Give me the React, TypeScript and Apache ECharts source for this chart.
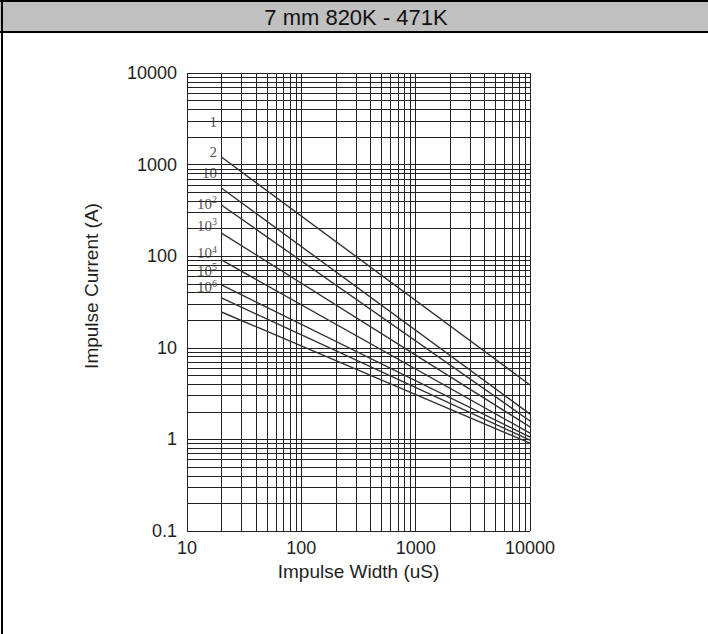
import React, { useEffect, useRef } from "react";
import * as echarts from "echarts";

// ---- data ----
const titleText = "7 mm 820K - 471K";
const xAxisTitle = "Impulse Width (uS)";
const yAxisTitle = "Impulse Current (A)";

const xMin = 10;
const xMax = 10000;
const yMin = 0.1;
const yMax = 10000;

const xDecades = [10, 100, 1000];
const yDecades = [0.1, 1, 10, 100, 1000];
const gridMultiples = [1, 2, 3, 4, 5, 6, 7, 8, 9];

// curves: impulse width (uS) -> impulse current (A)
const curveWidths = [20, 10000];
const curve2 = [1210, 3.93];
const curve10 = [556, 1.89];
const curve1e2 = [362, 1.59];
const curve1e3 = [179, 1.37];
const curve1e4 = [91, 1.17];
const curve1e5 = [48.5, 1.06];
const curve1e6 = [35, 0.98];
const curveLast = [24.6, 0.91];
const curveSet = [curve2, curve10, curve1e2, curve1e3, curve1e4, curve1e5, curve1e6, curveLast];

// curve labels (text, position in data coordinates)
const labelTexts = ["1", "2", "10", "10{s|2}", "10{s|3}", "10{s|4}", "10{s|5}", "10{s|6}"];
const labelX = 20;
const labelY = [2917, 1373, 810, 376, 216, 108, 69, 46];

const fontSans = "Liberation Sans, Arial, Helvetica, sans-serif";
const fontSerif = "Liberation Serif, Times New Roman, serif";

export default function App() {
  const ref = useRef<HTMLDivElement>(null);

  useEffect(() => {
    if (!ref.current) return;
    const chart = echarts.init(ref.current, null, { renderer: "svg" });

    const xGrid: number[] = [];
    xDecades.forEach((d) => gridMultiples.forEach((m) => xGrid.push(d * m)));
    xGrid.push(xMax);
    const yGrid: number[] = [];
    yDecades.forEach((d) => gridMultiples.forEach((m) => yGrid.push(+(d * m).toPrecision(6))));
    yGrid.push(yMax);

    const gridLineStyle = { color: "#222", width: 1, type: "solid" as const };

    const curveSeries = curveSet.map((c, i) => ({
      type: "line" as const,
      name: "c" + i,
      data: curveWidths.map((w, k) => [w, c[k]]),
      symbol: "none",
      lineStyle: { color: "#333", width: 1.4 },
      z: 5,
      silent: true,
    }));

    const option: any = {
      animation: false,
      backgroundColor: "#ffffff",
      grid: { left: 187, right: 178, top: 73, bottom: 103, containLabel: false },
      xAxis: {
        type: "log",
        logBase: 10,
        min: xMin,
        max: xMax,
        name: xAxisTitle,
        nameLocation: "middle",
        nameGap: 30,
        nameTextStyle: { fontFamily: fontSans, fontSize: 19, color: "#1e1e1e" },
        axisLine: { show: false },
        axisTick: { show: false },
        splitLine: { show: false },
        axisLabel: {
          fontFamily: fontSans,
          fontSize: 18,
          color: "#1e1e1e",
          margin: 8,
          formatter: (v: number) => String(v),
        },
      },
      yAxis: {
        type: "log",
        logBase: 10,
        min: yMin,
        max: yMax,
        axisLine: { show: false },
        axisTick: { show: false },
        splitLine: { show: false },
        axisLabel: {
          fontFamily: fontSans,
          fontSize: 18,
          color: "#1e1e1e",
          margin: 10,
          formatter: (v: number) => String(+v.toPrecision(6)),
        },
      },
      series: [
        {
          type: "line",
          name: "grid",
          data: [],
          silent: true,
          z: 1,
          markLine: {
            silent: true,
            symbol: ["none", "none"],
            label: { show: false },
            lineStyle: gridLineStyle,
            emphasis: { disabled: true },
            data: [
              ...xGrid.map((v) => ({ xAxis: v })),
              ...yGrid.map((v) => ({ yAxis: v })),
            ],
          },
        },
        ...curveSeries,
        {
          type: "scatter",
          name: "labels",
          silent: true,
          symbolSize: 1,
          itemStyle: { color: "rgba(0,0,0,0)" },
          z: 6,
          data: labelY.map((y, i) => [labelX, y, labelTexts[i]]),
          label: {
            show: true,
            position: "left",
            distance: 4,
            formatter: (p: any) => p.data[2],
            fontFamily: fontSerif,
            fontSize: 15,
            color: "#222",
            rich: {
              s: { fontFamily: fontSerif, fontSize: 10, color: "#222", padding: [0, 0, 8, 0] },
            },
          },
        },
      ],
      graphic: [
        {
          type: "rect",
          shape: { x: 0, y: 0, width: 708, height: 32 },
          style: { fill: "#c0c0c0" },
          silent: true,
        },
        {
          type: "line",
          shape: { x1: 0, y1: 1, x2: 708, y2: 1 },
          style: { stroke: "#000", lineWidth: 2 },
          silent: true,
        },
        {
          type: "line",
          shape: { x1: 0, y1: 32, x2: 708, y2: 32 },
          style: { stroke: "#000", lineWidth: 2 },
          silent: true,
        },
        {
          type: "line",
          shape: { x1: 2, y1: 0, x2: 2, y2: 634 },
          style: { stroke: "#000", lineWidth: 2 },
          silent: true,
        },
        {
          type: "text",
          x: 356,
          y: 17,
          style: {
            text: titleText,
            font: "22px " + fontSans,
            fill: "#111",
            textAlign: "center",
            textVerticalAlign: "middle",
          },
          silent: true,
        },
        {
          type: "text",
          x: 91,
          y: 286,
          rotation: Math.PI / 2,
          style: {
            text: yAxisTitle,
            font: "19px " + fontSans,
            fill: "#1e1e1e",
            textAlign: "center",
            textVerticalAlign: "middle",
          },
          silent: true,
        },
      ],
    };

    chart.setOption(option);
    return () => chart.dispose();
  }, []);

  return (
    <div
      ref={ref}
      style={{ position: "fixed", left: 0, top: 0, width: 708, height: 634, background: "#fff" }}
    />
  );
}
